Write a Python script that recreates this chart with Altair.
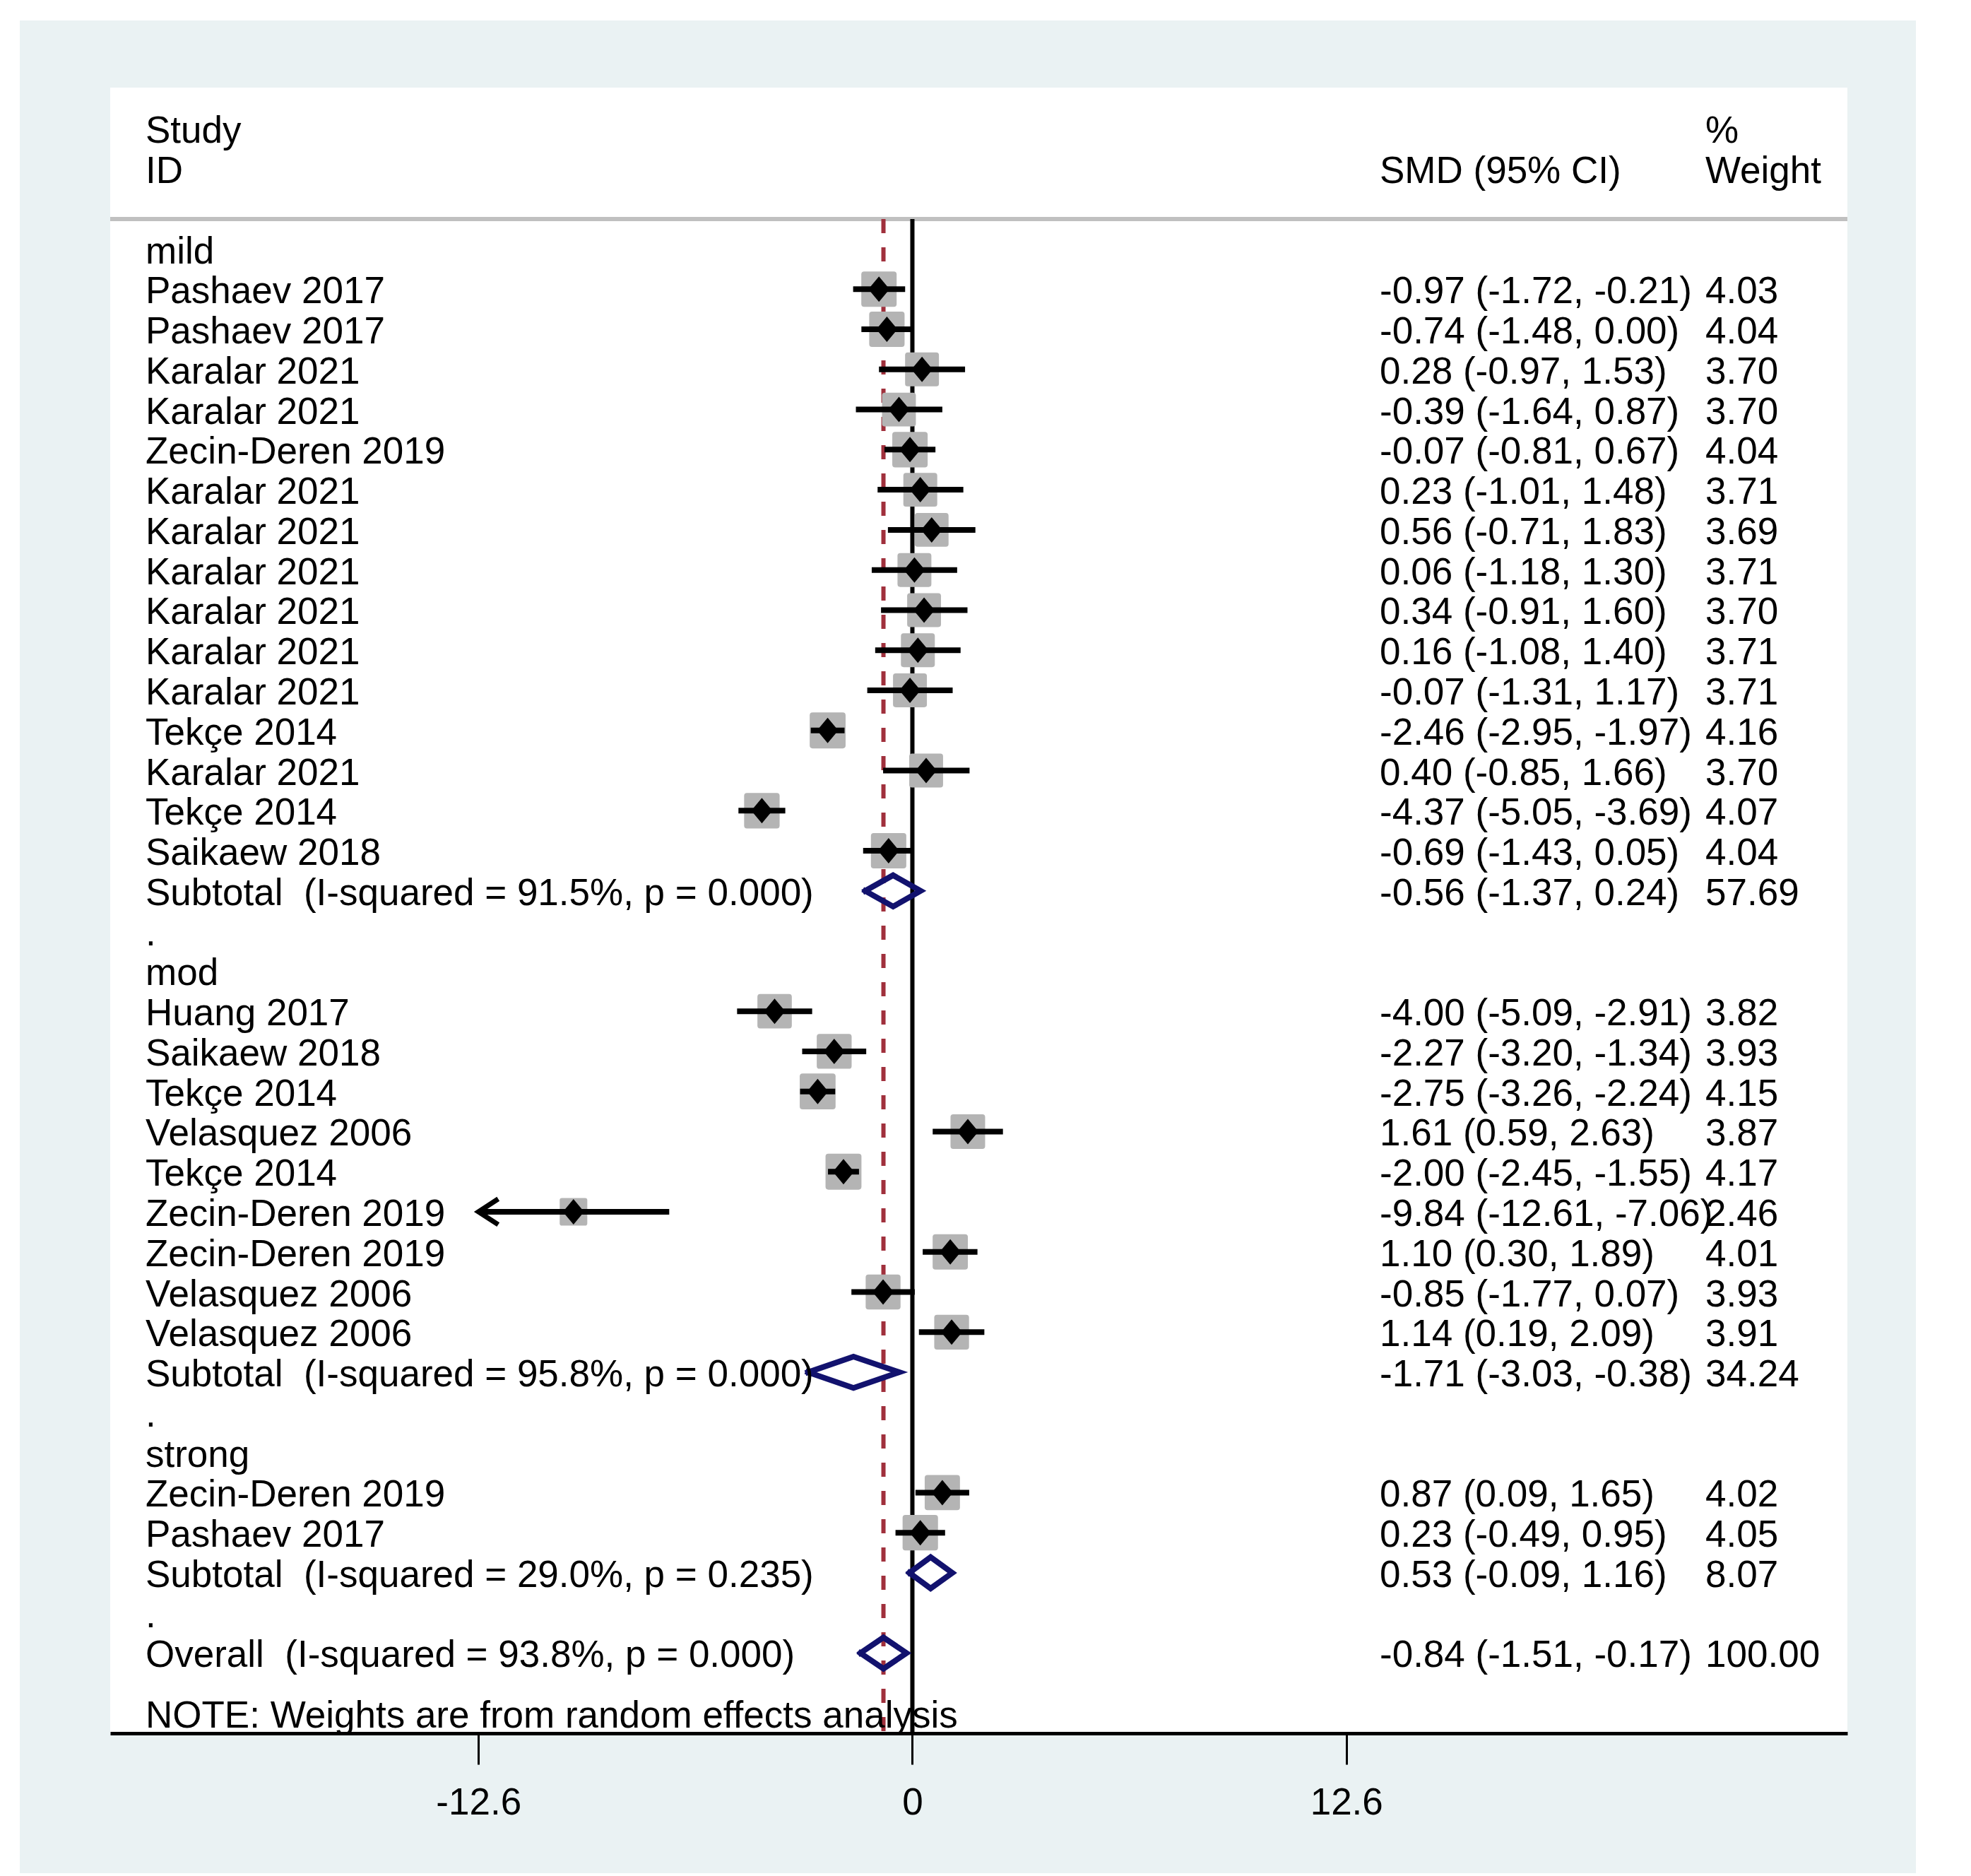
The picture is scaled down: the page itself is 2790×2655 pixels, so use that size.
import altair as alt
import pandas as pd

# ---- study-level estimates; "row" is the vertical slot in the forest layout ----
study_rows = [1, 2, 3, 4, 5, 6, 7, 8, 9, 10, 11, 12, 13, 14, 15,
              19, 20, 21, 22, 23, 24, 25, 26, 27,
              31, 32]
study_labels = ["Pashaev 2017", "Pashaev 2017", "Karalar 2021", "Karalar 2021",
                "Zecin-Deren 2019", "Karalar 2021", "Karalar 2021", "Karalar 2021",
                "Karalar 2021", "Karalar 2021", "Karalar 2021", "Tekçe 2014",
                "Karalar 2021", "Tekçe 2014", "Saikaew 2018",
                "Huang 2017", "Saikaew 2018", "Tekçe 2014", "Velasquez 2006",
                "Tekçe 2014", "Zecin-Deren 2019", "Zecin-Deren 2019",
                "Velasquez 2006", "Velasquez 2006",
                "Zecin-Deren 2019", "Pashaev 2017"]
study_smd = [-0.97, -0.74, 0.28, -0.39, -0.07, 0.23, 0.56, 0.06, 0.34, 0.16, -0.07, -2.46, 0.40, -4.37, -0.69,
             -4.00, -2.27, -2.75, 1.61, -2.00, -9.84, 1.10, -0.85, 1.14,
             0.87, 0.23]
study_lo = [-1.72, -1.48, -0.97, -1.64, -0.81, -1.01, -0.71, -1.18, -0.91, -1.08, -1.31, -2.95, -0.85, -5.05, -1.43,
            -5.09, -3.20, -3.26, 0.59, -2.45, -12.61, 0.30, -1.77, 0.19,
            0.09, -0.49]
study_hi = [-0.21, 0.00, 1.53, 0.87, 0.67, 1.48, 1.83, 1.30, 1.60, 1.40, 1.17, -1.97, 1.66, -3.69, 0.05,
            -2.91, -1.34, -2.24, 2.63, -1.55, -7.06, 1.89, 0.07, 2.09,
            1.65, 0.95]
study_wt = [4.03, 4.04, 3.70, 3.70, 4.04, 3.71, 3.69, 3.71, 3.70, 3.71, 3.71, 4.16, 3.70, 4.07, 4.04,
            3.82, 3.93, 4.15, 3.87, 4.17, 2.46, 4.01, 3.93, 3.91,
            4.02, 4.05]

# ---- pooled estimates (subgroup subtotals and overall) ----
pooled_rows = [16, 28, 33, 35]
pooled_labels = ["Subtotal  (I-squared = 91.5%, p = 0.000)",
                 "Subtotal  (I-squared = 95.8%, p = 0.000)",
                 "Subtotal  (I-squared = 29.0%, p = 0.235)",
                 "Overall  (I-squared = 93.8%, p = 0.000)"]
pooled_smd = [-0.56, -1.71, 0.53, -0.84]
pooled_lo = [-1.37, -3.03, -0.09, -1.51]
pooled_hi = [0.24, -0.38, 1.16, -0.17]
pooled_wt = [57.69, 34.24, 8.07, 100.00]

group_rows = [0, 18, 30]
group_labels = ["mild", "mod", "strong"]
spacer_rows = [17, 29, 34]

x_ticks = [-12.6, 0, 12.6]
note_text = "NOTE: Weights are from random effects analysis"

# ---- layout & style ----
W, H = 2459, 2329
FONT = "Liberation Sans"
FS = 53
LIGHT = "#eaf2f3"
BOX_GRAY = "#b4b4b4"
NAVY = "#12126e"
MAROON = "#a0303c"
HEADER_Y = 186
AX_MIN = min(x_ticks)

XS = alt.Scale(domain=[-23.292, 27.149], nice=False, zero=False)
YS = alt.Scale(domain=[-4.025, 37.0], nice=False, zero=False, reverse=True)
AX = alt.Axis(values=x_ticks, title=None, grid=False, zindex=2,
              labelExpr="datum.value == 0 ? '0' : (datum.value < 0 ? '-' : '') + format(abs(datum.value), '.1f')")


def pres(s):
    # keep runs of spaces visible in SVG text
    return s.replace("  ", "\u00a0 ")


studies = pd.DataFrame({
    "row": study_rows, "label": study_labels, "smd": study_smd,
    "lo": study_lo, "hi": study_hi, "wt": study_wt,
})
studies["lo_draw"] = studies["lo"].clip(lower=AX_MIN)
arrows = studies[studies["lo"] < AX_MIN].assign(tip=AX_MIN)

pooled = pd.DataFrame({
    "row": pooled_rows, "label": pooled_labels, "smd": pooled_smd,
    "lo": pooled_lo, "hi": pooled_hi, "wt": pooled_wt,
})

# diamond outlines for pooled estimates: left, top, right, bottom, back to left
HALF = 0.39
dia = []
for i, r in pooled.iterrows():
    pts = [(r.lo, r.row), (r.smd, r.row - HALF), (r.hi, r.row),
           (r.smd, r.row + HALF), (r.lo, r.row)]
    for j, (px, py) in enumerate(pts):
        dia.append({"grp": i, "ord": j, "x": px, "y": py})
dia = pd.DataFrame(dia)

# text columns
left_text = pd.DataFrame(
    [{"row": -3, "t": "Study"}, {"row": -2, "t": "ID"}]
    + [{"row": r, "t": t} for r, t in zip(group_rows, group_labels)]
    + [{"row": r, "t": t} for r, t in zip(study_rows, study_labels)]
    + [{"row": r, "t": pres(t)} for r, t in zip(pooled_rows, pooled_labels)]
    + [{"row": r, "t": "."} for r in spacer_rows]
    + [{"row": 36.5, "t": note_text}]
)
ci_text = pd.DataFrame(
    [{"row": -2, "t": "SMD (95% CI)"}]
    + [{"row": r, "t": f"{e:.2f} ({l:.2f}, {h:.2f})"}
       for r, e, l, h in zip(study_rows + pooled_rows, study_smd + pooled_smd,
                             study_lo + pooled_lo, study_hi + pooled_hi)]
)
wt_text = pd.DataFrame(
    [{"row": -3, "t": "%"}, {"row": -2, "t": "Weight"}]
    + [{"row": r, "t": f"{w:.2f}"} for r, w in zip(study_rows + pooled_rows, study_wt + pooled_wt)]
)

one = pd.DataFrame({"k": [0]})

# background frame and white plot panel
frame = alt.Chart(one).mark_rect(color=LIGHT).encode(
    x=alt.value(-128), x2=alt.value(2556), y=alt.value(-95), y2=alt.value(2527))
panel = alt.Chart(one).mark_rect(color="white").encode(
    x=alt.value(0), x2=alt.value(W), y=alt.value(0), y2=alt.value(H))
header_rule = alt.Chart(one).mark_rule(color="#c0c0c0", strokeWidth=6).encode(
    x=alt.value(0), x2=alt.value(W), y=alt.value(HEADER_Y))

null_line = alt.Chart(pd.DataFrame({"v": [0.0]})).mark_rule(color="black", strokeWidth=6).encode(
    x=alt.X("v:Q", scale=XS, axis=AX), y=alt.value(HEADER_Y), y2=alt.value(H))
overall_line = alt.Chart(pd.DataFrame({"v": [pooled_smd[-1]]})).mark_rule(
    color=MAROON, strokeWidth=6, strokeDash=[20, 20]).encode(
    x=alt.X("v:Q", scale=XS, axis=AX), y=alt.value(HEADER_Y), y2=alt.value(H))

ROUND_SQ = ("M-0.84,-1L0.84,-1Q1,-1 1,-0.84L1,0.84Q1,1 0.84,1L-0.84,1"
            "Q-1,1 -1,0.84L-1,-0.84Q-1,-1 -0.84,-1Z")
boxes = alt.Chart(studies).mark_point(shape=ROUND_SQ, filled=True, color=BOX_GRAY,
                                      opacity=1, strokeWidth=0).encode(
    x=alt.X("smd:Q", scale=XS, axis=AX),
    y=alt.Y("row:Q", scale=YS, axis=None),
    size=alt.Size("wt:Q", scale=alt.Scale(type="linear", domain=[0, 4.03], range=[0, 2500]), legend=None),
)
ci = alt.Chart(studies).mark_rule(color="black", strokeWidth=8).encode(
    x=alt.X("lo_draw:Q", scale=XS, axis=AX), x2="hi:Q",
    y=alt.Y("row:Q", scale=YS, axis=None),
)
arrow = alt.Chart(arrows).mark_point(shape="M1,-0.65L0,0L1,0.65", filled=False, color="black",
                                     opacity=1, strokeWidth=7, size=3136).encode(
    x=alt.X("tip:Q", scale=XS, axis=AX),
    y=alt.Y("row:Q", scale=YS, axis=None),
)
points = alt.Chart(studies).mark_point(shape="M0,-1.2L1,0L0,1.2L-1,0Z", filled=True, color="black",
                                       opacity=1, strokeWidth=0, size=900).encode(
    x=alt.X("smd:Q", scale=XS, axis=AX),
    y=alt.Y("row:Q", scale=YS, axis=None),
)
diamonds = alt.Chart(dia).mark_line(color=NAVY, strokeWidth=8, strokeCap="square").encode(
    x=alt.X("x:Q", scale=XS, axis=AX),
    y=alt.Y("y:Q", scale=YS, axis=None),
    detail="grp:N", order="ord:Q",
)


def text_col(df, xpos):
    return alt.Chart(df).mark_text(align="left", baseline="alphabetic", dy=20,
                                   font=FONT, fontSize=FS, color="black").encode(
        x=alt.value(xpos), y=alt.Y("row:Q", scale=YS, axis=None), text="t:N")


chart = alt.layer(
    frame, panel, header_rule, overall_line, null_line,
    boxes, ci, arrow, points, diamonds,
    text_col(left_text, 50), text_col(ci_text, 1797), text_col(wt_text, 2258),
).properties(
    width=W, height=H,
    autosize=alt.AutoSizeParams(type="none"),
    padding={"left": 156, "top": 124, "right": 97, "bottom": 198},
    background="white",
).configure_view(strokeWidth=0).configure_axis(
    domainColor="black", domainWidth=5, tickColor="black", tickWidth=3, tickSize=44,
    labelFont=FONT, labelFontSize=FS, labelColor="black", labelPadding=28,
)

chart.save("out.html", embed_options={"renderer": "svg", "actions": False})
